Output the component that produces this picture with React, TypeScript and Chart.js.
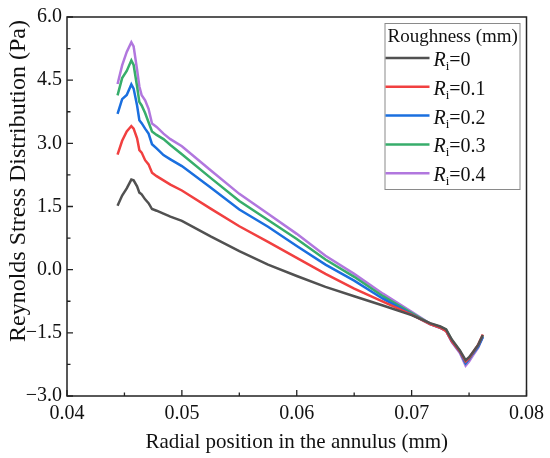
import { useEffect, useRef } from "react";
import { Chart, registerables, Plugin } from "chart.js";

Chart.register(...registerables);

// radial position (mm) shared by every curve
const positions = [
  0.0444, 0.0448, 0.0452, 0.0456, 0.0458, 0.0461, 0.0463, 0.0465, 0.0468, 0.0471,
  0.0474, 0.0478, 0.0484, 0.049, 0.05, 0.0525, 0.055, 0.0575, 0.06, 0.0625,
  0.065, 0.0675, 0.07, 0.0716, 0.0725, 0.073, 0.0735, 0.0742, 0.0747, 0.075,
  0.0753, 0.0758, 0.0762,
];

// Reynolds stress (Pa) for each roughness
const stressR0 = [
  1.52, 1.76, 1.93, 2.14, 2.12, 1.98, 1.83, 1.79, 1.67, 1.58,
  1.44, 1.4, 1.33, 1.26, 1.16, 0.79, 0.44, 0.12, -0.15, -0.41,
  -0.63, -0.85, -1.08, -1.27, -1.35, -1.42, -1.66, -1.92, -2.15, -2.08,
  -1.97, -1.78, -1.55,
];
const stressR01 = [
  2.73, 3.06, 3.28, 3.41, 3.35, 3.12, 2.84, 2.78, 2.6, 2.5,
  2.3, 2.22, 2.12, 2.02, 1.88, 1.45, 1.03, 0.66, 0.28, -0.1,
  -0.45, -0.76, -1.07, -1.29, -1.38, -1.46, -1.7, -1.94, -2.18, -2.1,
  -1.98, -1.78, -1.54,
];
const stressR02 = [
  3.7, 4.05, 4.15, 4.4, 4.3, 3.9, 3.55, 3.48, 3.35, 3.23,
  2.98, 2.88, 2.72, 2.62, 2.46, 1.95, 1.43, 1.02, 0.56, 0.12,
  -0.26, -0.69, -1.06, -1.29, -1.38, -1.45, -1.7, -1.95, -2.22, -2.12,
  -2.0, -1.82, -1.6,
];
const stressR03 = [
  4.14, 4.55, 4.72, 4.97, 4.86, 4.35, 3.98, 3.9, 3.72, 3.5,
  3.28, 3.2, 3.1, 2.96, 2.74, 2.18, 1.63, 1.18, 0.73, 0.24,
  -0.17, -0.63, -1.03, -1.28, -1.36, -1.42, -1.68, -1.93, -2.22, -2.12,
  -2.0, -1.82, -1.58,
];
const stressR04 = [
  4.41, 4.85, 5.17, 5.4, 5.3, 4.75, 4.35, 4.14, 4.02, 3.82,
  3.47, 3.39, 3.23, 3.1, 2.93, 2.36, 1.8, 1.33, 0.85, 0.33,
  -0.1, -0.57, -1.0, -1.28, -1.38, -1.45, -1.72, -1.98, -2.28, -2.18,
  -2.05, -1.85, -1.6,
];

const roughness = ["0", "0.1", "0.2", "0.3", "0.4"];
const seriesValues = [stressR0, stressR01, stressR02, stressR03, stressR04];
const seriesColors = ["#515151", "#F14040", "#1A6FDF", "#37AD6B", "#B177DE"];

const FONT = "Liberation Serif, DejaVu Serif, serif";

// frame, inward ticks, axis titles and the boxed legend
const decorations: Plugin<"line"> = {
  id: "decorations",
  afterDraw(chart) {
    const { ctx, chartArea: a } = chart;
    const xs = chart.scales.x;
    const ys = chart.scales.y;
    ctx.save();
    ctx.strokeStyle = "#222";
    ctx.lineWidth = 1.5;
    ctx.strokeRect(a.left, a.top, a.right - a.left, a.bottom - a.top);

    ctx.lineWidth = 1.3;
    ctx.beginPath();
    for (let v = 0.04; v <= 0.08 + 1e-9; v += 0.005) {
      const px = xs.getPixelForValue(v);
      const major = Math.abs(v * 100 - Math.round(v * 100)) < 1e-6;
      ctx.moveTo(px, a.bottom);
      ctx.lineTo(px, a.bottom - (major ? 6 : 3.5));
    }
    for (let v = -3; v <= 6 + 1e-9; v += 0.75) {
      const py = ys.getPixelForValue(v);
      const major = Math.abs(v / 1.5 - Math.round(v / 1.5)) < 1e-6;
      ctx.moveTo(a.left, py);
      ctx.lineTo(a.left + (major ? 6 : 3.5), py);
    }
    ctx.stroke();

    // axis titles
    ctx.fillStyle = "#111";
    ctx.font = `21px ${FONT}`;
    ctx.textAlign = "center";
    ctx.textBaseline = "alphabetic";
    ctx.fillText("Radial position in the annulus (mm)", (a.left + a.right) / 2, 448);
    ctx.save();
    ctx.translate(25, 181);
    ctx.rotate(-Math.PI / 2);
    ctx.font = `24px ${FONT}`;
    ctx.fillText("Reynolds Stress Distribution (Pa)", 0, 0);
    ctx.restore();

    // legend
    const lx = a.right - 142;
    const ly = a.top + 6;
    ctx.fillStyle = "#fff";
    ctx.fillRect(lx, ly, 135, 166);
    ctx.strokeStyle = "#8a8a8a";
    ctx.lineWidth = 1;
    ctx.strokeRect(lx + 0.5, ly + 0.5, 135, 166);
    ctx.fillStyle = "#111";
    ctx.textAlign = "left";
    ctx.font = `19px ${FONT}`;
    ctx.fillText("Roughness (mm)", lx + 3, ly + 19);
    roughness.forEach((r, i) => {
      const rowY = ly + 35 + i * 28.8;
      ctx.strokeStyle = seriesColors[i];
      ctx.lineWidth = 2.5;
      ctx.beginPath();
      ctx.moveTo(lx + 1, rowY);
      ctx.lineTo(lx + 45, rowY);
      ctx.stroke();
      let tx = lx + 49;
      const base = rowY + 8;
      ctx.font = `italic 20px ${FONT}`;
      ctx.fillText("R", tx, base);
      tx += ctx.measureText("R").width;
      ctx.font = `13px ${FONT}`;
      ctx.fillText("i", tx, base + 4);
      tx += ctx.measureText("i").width;
      ctx.font = `20px ${FONT}`;
      ctx.fillText(`=${r}`, tx, base);
    });
    ctx.restore();
  },
};

export default function App() {
  const canvasRef = useRef<HTMLCanvasElement>(null);

  useEffect(() => {
    document.body.style.margin = "0";
    if (!canvasRef.current) return;
    const chart = new Chart(canvasRef.current, {
      type: "line",
      data: {
        datasets: seriesValues.map((vals, i) => ({
          label: `Ri=${roughness[i]}`,
          data: vals.map((y, j) => ({ x: positions[j], y })),
          borderColor: seriesColors[i],
          borderWidth: 2.5,
          pointRadius: 0,
          tension: 0,
        })),
      },
      options: {
        responsive: false,
        animation: false,
        layout: { padding: { top: 12, right: 23, left: 0, bottom: 0 } },
        plugins: {
          legend: { display: false },
          tooltip: { enabled: false },
        },
        scales: {
          x: {
            type: "linear",
            min: 0.04,
            max: 0.08,
            grid: { display: false, drawTicks: false },
            border: { display: false },
            afterFit: (s) => {
              s.height = 62;
            },
            ticks: {
              stepSize: 0.01,
              padding: 6,
              color: "#111",
              font: { family: FONT, size: 20 },
              callback: (v) => Number(v).toFixed(2),
            },
          },
          y: {
            min: -3,
            max: 6,
            grid: { display: false, drawTicks: false },
            border: { display: false },
            afterFit: (s) => {
              s.width = 67;
            },
            ticks: {
              stepSize: 1.5,
              padding: 5,
              color: "#111",
              font: { family: FONT, size: 20 },
              callback: (v) => Number(v).toFixed(1).replace("-", "\u2212"),
            },
          },
        },
      },
      plugins: [decorations],
    });
    // redraw once the serif face is ready
    document.fonts.load(`20px ${FONT}`).then(() => chart.update());
    return () => chart.destroy();
  }, []);

  return (
    <div style={{ width: 550, height: 458 }}>
      <canvas ref={canvasRef} width={550} height={458} />
    </div>
  );
}
